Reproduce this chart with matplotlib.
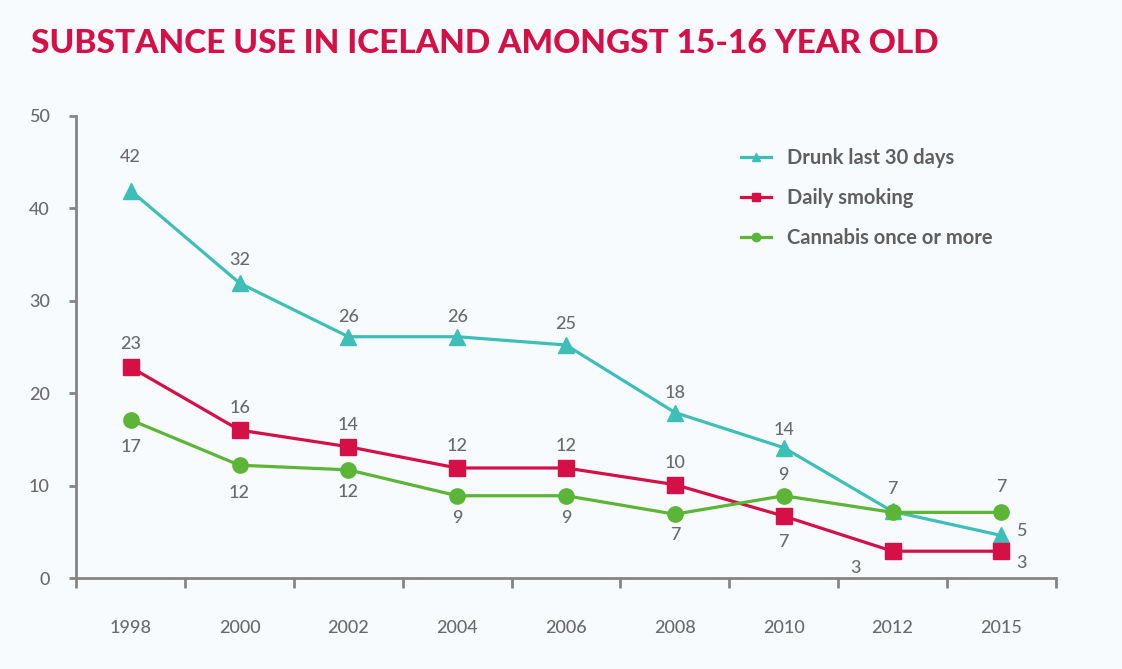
import matplotlib.pyplot as plt

# Data
years = ["1998", "2000", "2002", "2004", "2006", "2008", "2010", "2012", "2015"]
drunk = [41.9, 31.9, 26.1, 26.1, 25.2, 17.9, 14.1, 7.2, 4.6]
smoking = [22.8, 16.0, 14.2, 11.9, 11.9, 10.1, 6.7, 2.9, 2.9]
cannabis = [17.1, 12.2, 11.7, 8.9, 8.9, 6.9, 8.9, 7.1, 7.1]

drunk_labels = ["42", "32", "26", "26", "25", "18", "14", "7", "5"]
smoking_labels = ["23", "16", "14", "12", "12", "10", "7", "3", "3"]
cannabis_labels = ["17", "12", "12", "9", "9", "7", "9", "", "7"]

# label offsets in pixels (dx, dy) relative to each point
drunk_off = [(0, 34), (0, 23), (0, 20), (0, 20), (0, 21), (0, 20), (0, 18), (0, 22), (20, 4)]
smoking_off = [(0, 23), (0, 22), (0, 22), (0, 22), (0, 22), (0, 22), (0, -26), (-37, -17), (20, -12)]
cannabis_off = [(0, -27), (0, -28), (0, -22), (0, -22), (0, -22), (0, -21), (0, 21), (0, 0), (0, 25)]

bg = "#f7fbfe"
teal = "#3dbfb8"
red = "#d51047"
green = "#5cb536"
gray = "#6a6a6a"
axis_gray = "#858585"

plt.rcParams["font.family"] = ["Lato", "DejaVu Sans"]

fig = plt.figure(figsize=(11.22, 6.69), dpi=100, facecolor=bg)
ax = fig.add_axes([0.068, 0.136, 0.873, 0.691])
ax.set_facecolor(bg)

x = list(range(len(years)))
ax.plot(x, drunk, color=teal, lw=2.3, marker="^", ms=11, label="Drunk last 30 days", zorder=3)
ax.plot(x, smoking, color=red, lw=2.3, marker="s", ms=11, label="Daily smoking", zorder=3)
ax.plot(x, cannabis, color=green, lw=2.3, marker="o", ms=11, label="Cannabis once or more", zorder=3)

ax.set_xlim(-0.5, 8.5)
ax.set_ylim(0, 50)

# value labels
lab_kw = dict(fontsize=13, color=gray, ha="center", va="center", fontweight="medium",
              textcoords="offset pixels")
for vals, labs, offs in [(drunk, drunk_labels, drunk_off),
                         (smoking, smoking_labels, smoking_off),
                         (cannabis, cannabis_labels, cannabis_off)]:
    for i, (v, t, o) in enumerate(zip(vals, labs, offs)):
        if t:
            ax.annotate(t, (i, v), xytext=o, **lab_kw)

# axes styling
for s in ["top", "right"]:
    ax.spines[s].set_visible(False)
for s in ["left", "bottom"]:
    ax.spines[s].set_color(axis_gray)
    ax.spines[s].set_linewidth(2)

ax.set_yticks([0, 10, 20, 30, 40, 50])
ax.tick_params(axis="y", length=5, width=2, color=axis_gray, labelcolor=gray, labelsize=13, pad=14)

ax.set_xticks([i - 0.5 for i in range(len(years) + 1)])
ax.set_xticklabels([])
ax.tick_params(axis="x", which="major", length=7, width=2, color=axis_gray)
ax.set_xticks(x, minor=True)
ax.set_xticklabels(years, minor=True)
ax.tick_params(axis="x", which="minor", length=0, labelcolor=gray, labelsize=13, pad=30)
for lbl in ax.get_xticklabels(minor=True) + ax.get_yticklabels():
    lbl.set_fontweight("medium")

leg = ax.legend(loc="upper left", bbox_to_anchor=(0.66, 0.969), frameon=False,
                handlelength=1.5, handletextpad=0.8, labelspacing=0.98, markerscale=0.55,
                prop={"weight": "bold", "size": 14.5})
for t in leg.get_texts():
    t.set_color("#5f5f5f")

fig.text(0.028, 0.935, "SUBSTANCE USE IN ICELAND AMONGST 15-16 YEAR OLD", color=red,
         fontsize=24, fontweight="black", va="center", ha="left")

fig.savefig("out.png", dpi=100, facecolor=bg)
